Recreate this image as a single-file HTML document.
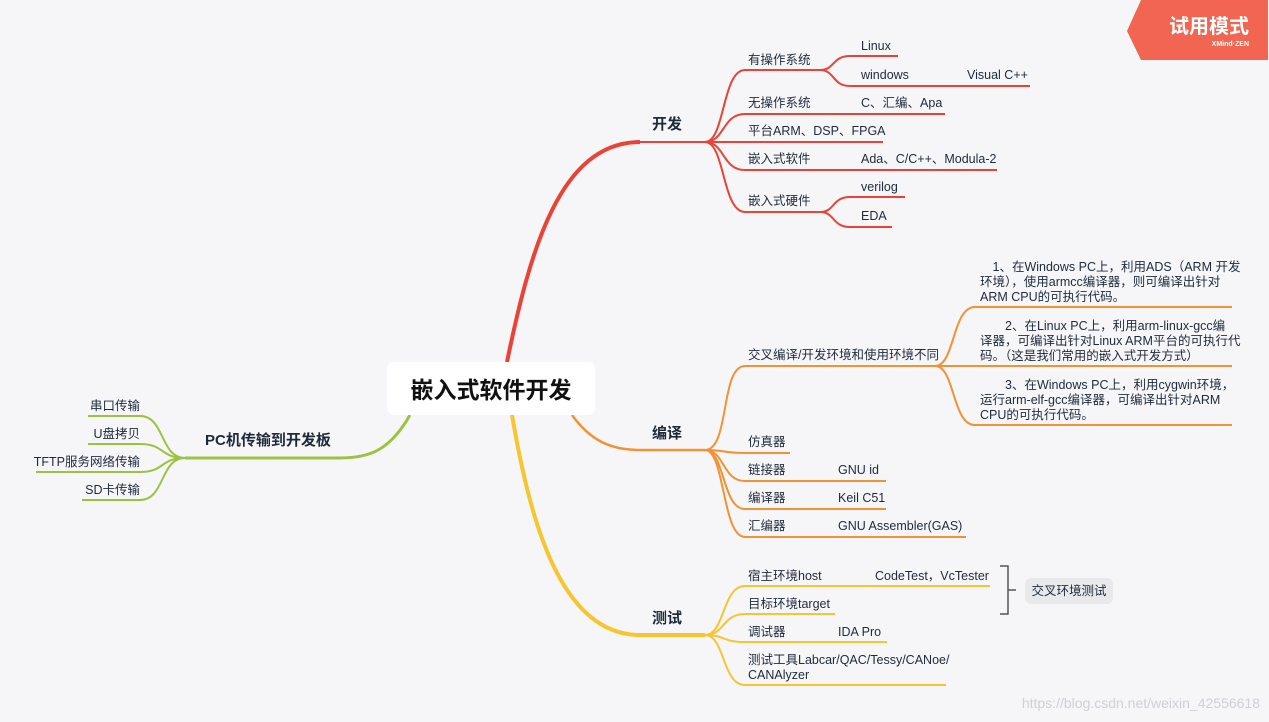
<!DOCTYPE html>
<html><head><meta charset="utf-8"><style>
html,body{margin:0;padding:0;background:#f6f6f8;}
svg{display:block}
text{font-family:"Liberation Sans","Noto Sans CJK SC",sans-serif;fill:#1e2a3a;font-size:12.5px}
.t{font-size:15px;font-weight:bold}
</style></head><body>
<svg width="1269" height="722" viewBox="0 0 1269 722" xmlns="http://www.w3.org/2000/svg">
<rect width="1269" height="722" fill="#f6f6f8"/>
<path d="M507,362 C530,250 560,142 640,142" stroke="#ea4236" stroke-width="4" fill="none"/>
<path d="M640,142 L705,142" stroke="#ea4236" stroke-width="2" fill="none"/>
<path d="M572,415 C590,440 610,450 640,450 L705,450" stroke="#f39234" stroke-width="2.5" fill="none"/>
<path d="M512,415 C530,520 560,635 640,635 L705,635" stroke="#f8c532" stroke-width="4" fill="none"/>
<path d="M410,415 C390,450 370,458 340,458 L185,458" stroke="#9dc241" stroke-width="3" fill="none"/>
<g stroke="#ea4236" stroke-width="2" fill="none">
<path d="M705,142 C725,142 722,70 745,70 L820,70"/>
<path d="M705,142 C725,142 722,114 745,114 L945,114"/>
<path d="M705,142 L883,142"/>
<path d="M705,142 C725,142 722,170 745,170 L997,170"/>
<path d="M705,142 C725,142 722,212 745,212 L820,212"/>
<path d="M820,70 C835,70 832,56 850,56 L898,56"/>
<path d="M820,70 C835,70 832,86 850,86 L1030,86"/>
<path d="M820,212 C835,212 832,197 850,197 L905,197"/>
<path d="M820,212 C835,212 832,227 850,227 L892,227"/>
</g>
<g stroke="#f39234" stroke-width="2" fill="none">
<path d="M705,450 C730,450 720,366 745,366 L935,366"/>
<path d="M705,450 C725,450 722,453 745,453 L790,453"/>
<path d="M705,450 C725,450 722,481 745,481 L886,481"/>
<path d="M705,450 C725,450 722,509 745,509 L886,509"/>
<path d="M705,450 C725,450 722,537 745,537 L966,537"/>
<path d="M935,366 C955,366 952,307 975,307 L1232,307"/>
<path d="M935,366 L1232,366"/>
<path d="M935,366 C955,366 952,425 975,425 L1232,425"/>
</g>
<g stroke="#f8c532" stroke-width="2" fill="none">
<path d="M705,635 C725,635 722,586 745,586 L990,586"/>
<path d="M705,635 C725,635 722,614 745,614 L835,614"/>
<path d="M705,635 C725,635 722,642 745,642 L887,642"/>
<path d="M705,635 C725,635 722,685 745,685 L946,685"/>
</g>
<g stroke="#9dc241" stroke-width="2" fill="none">
<path d="M185,458 C160,458 165,416 140,416 L88,416"/>
<path d="M185,458 C160,458 165,444 140,444 L88,444"/>
<path d="M185,458 C160,458 165,472 140,472 L36,472"/>
<path d="M185,458 C160,458 165,500 140,500 L82,500"/>
</g>
<rect x="387" y="362" width="208" height="53" rx="7" fill="#fff"/>
<text x="491" y="398" text-anchor="middle" style="font-size:23px;font-weight:bold;fill:#111">嵌入式软件开发</text>
<text class="t" x="652" y="129">开发</text>
<text class="t" x="652" y="438">编译</text>
<text class="t" x="652" y="623">测试</text>
<text class="t" x="205" y="445">PC机传输到开发板</text>
<text x="748" y="64">有操作系统</text>
<text x="861" y="50">Linux</text>
<text x="861" y="79">windows</text>
<text x="967" y="79">Visual C++</text>
<text x="748" y="107">无操作系统</text>
<text x="861" y="107">C、汇编、Apa</text>
<text x="748" y="135">平台ARM、DSP、FPGA</text>
<text x="748" y="163">嵌入式软件</text>
<text x="861" y="163">Ada、C/C++、Modula-2</text>
<text x="748" y="205">嵌入式硬件</text>
<text x="861" y="191">verilog</text>
<text x="861" y="220">EDA</text>
<text x="748" y="359">交叉编译/开发环境和使用环境不同</text>
<text x="980" y="271">　1、在Windows PC上，利用ADS（ARM 开发</text>
<text x="980" y="286">环境），使用armcc编译器，则可编译出针对</text>
<text x="980" y="301">ARM CPU的可执行代码。</text>
<text x="980" y="330">　　2、在Linux PC上，利用arm-linux-gcc编</text>
<text x="980" y="345">译器，可编译出针对Linux ARM平台的可执行代</text>
<text x="980" y="360">码。（这是我们常用的嵌入式开发方式）</text>
<text x="980" y="389">　　3、在Windows PC上，利用cygwin环境，</text>
<text x="980" y="404">运行arm-elf-gcc编译器，可编译出针对ARM</text>
<text x="980" y="419">CPU的可执行代码。</text>
<text x="748" y="446">仿真器</text>
<text x="748" y="474">链接器</text>
<text x="838" y="474">GNU id</text>
<text x="748" y="502">编译器</text>
<text x="838" y="502">Keil C51</text>
<text x="748" y="530">汇编器</text>
<text x="838" y="530">GNU Assembler(GAS)</text>
<text x="748" y="580">宿主环境host</text>
<text x="875" y="580">CodeTest，VcTester</text>
<text x="748" y="608">目标环境target</text>
<text x="748" y="636">调试器</text>
<text x="838" y="636">IDA Pro</text>
<text x="748" y="664">测试工具Labcar/QAC/Tessy/CANoe/</text>
<text x="748" y="679">CANAlyzer</text>
<path d="M1000,566 H1008 V614 H1000 M1008,590 H1016" stroke="#555" stroke-width="1.5" fill="none"/>
<rect x="1025" y="578" width="88" height="26" rx="6" fill="#e9e9eb"/>
<text x="1069" y="595" text-anchor="middle">交叉环境测试</text>
<text x="140" y="410" text-anchor="end">串口传输</text>
<text x="140" y="438" text-anchor="end">U盘拷贝</text>
<text x="140" y="466" text-anchor="end">TFTP服务网络传输</text>
<text x="140" y="494" text-anchor="end">SD卡传输</text>
<path d="M1141,0 H1268 V60 H1141 L1127,31 Z" fill="#f26552"/>
<text x="1249" y="33" text-anchor="end" style="font-size:20px;fill:#fff;font-weight:bold">试用模式</text>
<text x="1249" y="46" text-anchor="end" style="font-size:7px;fill:#fff;font-weight:bold">XMind·ZEN</text>
<text x="1260" y="708" text-anchor="end" style="font-size:14px;fill:#d0d0d4">https://blog.csdn.net/weixin_42556618</text>
</svg>
</body></html>
